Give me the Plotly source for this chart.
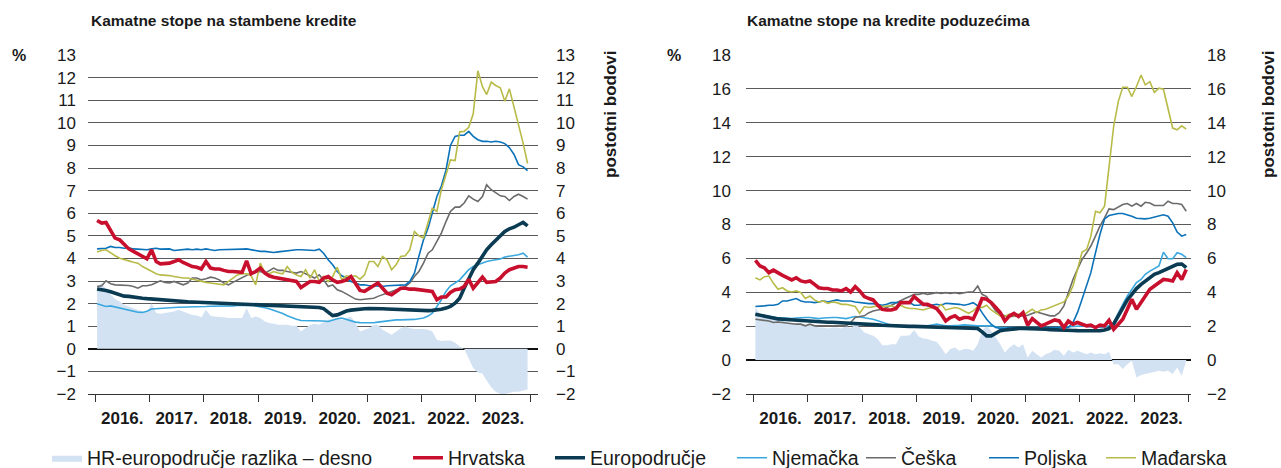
import pandas as pd
import plotly.graph_objects as go

# ---------------- data (monthly, Jan 2016 - Dec 2023) ----------------
months = pd.date_range("2016-01-01", "2023-12-01", freq="MS") + pd.Timedelta(days=14)

series_names = ["HR-europodručje razlika – desno", "Hrvatska", "Europodručje",
                "Njemačka", "Češka", "Poljska", "Mađarska"]
year_labels_fmt = "%Y."

# --- housing loans (stambeni krediti) ---
hr_h = [5.68,5.56,5.59,5.27,4.90,4.82,4.60,4.42,4.31,4.19,4.09,3.98,
        4.38,3.86,3.76,3.76,3.79,3.86,3.94,3.82,3.72,3.64,3.61,3.53,
        3.86,3.57,3.53,3.53,3.47,3.42,3.42,3.39,3.38,3.89,3.32,3.42,
        3.57,3.35,3.23,3.17,3.13,3.10,3.08,3.02,2.98,2.71,2.83,2.98,
        2.98,2.94,3.13,3.20,3.05,2.94,2.98,3.05,3.20,2.91,2.58,2.54,
        2.68,2.83,2.91,2.68,2.46,2.39,2.54,2.68,2.68,2.64,2.64,2.61,
        2.61,2.58,2.54,2.17,2.29,2.29,2.49,2.61,2.64,2.76,3.08,2.68,
        2.91,3.17,2.94,2.95,2.98,3.13,3.35,3.50,3.57,3.64,3.64,3.61]
ea_h = [2.65,2.62,2.58,2.52,2.45,2.38,2.33,2.32,2.28,2.25,2.24,2.22,
        2.20,2.18,2.17,2.15,2.14,2.12,2.10,2.09,2.08,2.07,2.06,2.05,
        2.04,2.03,2.02,2.01,2.00,1.99,1.99,1.98,1.97,1.96,1.95,1.95,
        1.94,1.93,1.92,1.91,1.90,1.89,1.88,1.87,1.86,1.85,1.85,1.84,
        1.84,1.83,1.78,1.62,1.47,1.50,1.60,1.67,1.71,1.74,1.76,1.77,
        1.78,1.79,1.78,1.77,1.76,1.75,1.74,1.73,1.72,1.71,1.70,1.70,
        1.69,1.69,1.70,1.72,1.75,1.80,1.88,2.02,2.24,2.68,3.13,3.50,
        3.79,4.12,4.38,4.60,4.79,5.00,5.19,5.31,5.38,5.49,5.59,5.44]
de_h = [1.99,1.93,1.87,1.90,1.85,1.80,1.76,1.72,1.67,1.62,1.61,1.66,
        1.76,1.78,1.79,1.80,1.81,1.83,1.84,1.84,1.85,1.86,1.86,1.87,
        1.87,1.88,1.88,1.89,1.89,1.90,1.90,1.92,1.93,1.95,1.93,1.90,
        1.87,1.82,1.77,1.71,1.65,1.56,1.46,1.37,1.31,1.25,1.25,1.25,
        1.25,1.24,1.23,1.21,1.28,1.33,1.36,1.30,1.24,1.18,1.16,1.15,
        1.14,1.15,1.18,1.21,1.24,1.26,1.28,1.28,1.28,1.28,1.30,1.33,
        1.36,1.45,1.58,1.87,2.17,2.54,2.79,2.91,3.05,3.27,3.50,3.64,
        3.72,3.79,3.86,3.91,3.94,3.97,4.06,4.09,4.12,4.16,4.23,4.06]
cz_h = [2.76,2.79,3.01,2.88,2.83,2.83,2.83,2.80,2.76,2.68,2.79,2.79,
        2.83,2.91,3.01,2.94,2.91,2.98,2.91,2.83,2.91,3.13,3.13,3.05,
        3.10,3.17,3.13,3.05,2.91,2.83,2.94,3.05,3.13,3.27,3.35,3.38,
        3.42,3.35,3.47,3.57,3.47,3.47,3.42,3.38,3.35,3.42,3.32,3.20,
        3.13,3.27,3.05,2.76,2.83,2.61,2.54,2.43,2.32,2.20,2.17,2.20,
        2.20,2.24,2.32,2.39,2.46,2.54,2.61,2.68,2.76,2.91,3.20,3.42,
        3.79,4.23,4.38,4.75,5.12,5.63,6.08,6.27,6.27,6.45,6.77,6.62,
        6.52,6.74,7.26,7.04,6.89,6.77,6.74,6.56,6.74,6.84,6.74,6.62]
pl_h = [4.42,4.42,4.45,4.53,4.48,4.48,4.45,4.47,4.42,4.41,4.41,4.38,
        4.42,4.45,4.41,4.41,4.42,4.35,4.38,4.41,4.41,4.38,4.41,4.38,
        4.42,4.38,4.35,4.38,4.38,4.38,4.38,4.38,4.41,4.42,4.38,4.35,
        4.31,4.31,4.28,4.26,4.29,4.31,4.35,4.38,4.38,4.38,4.38,4.38,
        4.35,4.41,4.23,3.94,3.72,3.42,3.23,3.13,2.98,2.91,2.83,2.83,
        2.79,2.79,2.76,2.76,2.79,2.80,2.83,2.83,2.83,2.98,3.35,4.09,
        4.82,5.34,6.00,6.74,7.20,7.90,9.00,9.40,9.45,9.45,9.62,9.40,
        9.25,9.18,9.18,9.15,9.18,9.15,9.08,8.90,8.60,8.15,8.05,7.88]
hu_h = [4.28,4.35,4.38,4.23,4.12,4.01,3.94,3.89,3.83,3.79,3.64,3.53,
        3.42,3.32,3.27,3.27,3.24,3.20,3.16,3.13,3.13,3.08,3.02,2.98,
        2.94,2.91,2.88,2.83,2.83,2.98,3.13,3.27,3.32,3.32,3.23,2.83,
        3.79,3.35,3.32,3.42,3.35,3.32,3.64,3.38,3.27,3.20,3.50,3.13,
        3.50,2.98,3.20,2.98,3.20,3.61,3.05,3.23,3.20,3.23,3.08,3.27,
        3.86,3.86,3.64,4.09,3.94,3.50,3.72,4.09,4.12,4.38,5.19,5.00,
        4.90,5.56,6.22,6.08,7.04,7.70,8.36,8.33,9.60,9.62,9.80,10.40,
        12.30,11.60,11.25,11.80,11.65,11.55,10.95,11.50,10.70,10.00,9.10,8.20]
dd_h = [2.76,2.91,2.61,2.39,2.20,2.09,1.95,1.87,1.80,1.73,1.65,1.62,
        2.02,1.58,1.55,1.58,1.61,1.65,1.73,1.65,1.55,1.50,1.47,1.40,
        1.73,1.46,1.43,1.43,1.40,1.36,1.36,1.33,1.36,1.80,1.36,1.43,
        1.36,1.21,1.14,1.11,1.06,1.06,1.06,1.02,1.02,0.77,0.91,1.06,
        1.11,1.06,1.17,1.28,1.31,1.36,1.28,1.36,1.43,1.14,0.77,0.84,
        0.91,1.06,1.06,0.84,0.72,0.62,0.77,0.91,0.99,0.91,0.88,0.88,
        0.88,0.84,0.77,0.40,0.35,0.37,0.37,0.28,0.10,0.00,-0.40,-0.85,
        -1.05,-1.10,-1.40,-1.70,-1.90,-2.00,-2.00,-1.95,-1.90,-1.90,-1.85,-1.80]

# --- corporate loans (krediti poduzećima) ---
hr_c = [5.88,5.55,5.45,5.16,5.31,5.12,5.00,4.86,4.73,4.86,4.67,4.61,
        4.67,4.47,4.27,4.22,4.22,4.14,4.14,4.08,4.22,4.02,4.33,4.08,
        3.75,3.63,3.55,3.24,3.00,2.96,2.96,3.04,3.39,3.39,3.39,3.75,
        3.49,3.29,3.29,3.16,3.04,2.71,2.31,2.51,2.61,2.41,2.51,2.51,
        2.41,3.00,3.63,3.59,3.39,3.10,2.80,2.31,2.61,2.76,2.57,2.80,
        2.06,2.45,2.22,2.02,2.12,2.22,2.37,2.31,1.92,2.31,2.12,2.22,
        2.12,2.02,2.06,1.92,2.06,2.02,2.35,1.82,2.12,2.41,3.00,3.59,
        3.00,3.39,3.78,4.18,4.37,4.57,4.76,4.73,4.67,5.16,4.76,5.35]
ea_c = [2.71,2.65,2.57,2.51,2.47,2.43,2.41,2.39,2.37,2.34,2.31,2.29,
        2.27,2.26,2.25,2.24,2.23,2.23,2.22,2.21,2.20,2.18,2.16,2.14,
        2.12,2.11,2.09,2.08,2.06,2.04,2.02,2.01,2.01,2.00,1.99,1.99,
        1.98,1.97,1.97,1.96,1.95,1.95,1.94,1.93,1.92,1.90,1.90,1.90,
        1.90,1.86,1.67,1.43,1.43,1.59,1.73,1.78,1.82,1.82,1.86,1.86,
        1.86,1.84,1.82,1.82,1.82,1.80,1.78,1.77,1.75,1.75,1.75,1.74,
        1.73,1.72,1.71,1.72,1.73,1.78,1.86,2.12,2.61,3.10,3.55,3.88,
        4.22,4.47,4.67,4.86,5.06,5.16,5.29,5.39,5.55,5.65,5.67,5.45]
de_c = [2.71,2.66,2.61,2.56,2.51,2.50,2.49,2.47,2.45,2.48,2.51,2.51,
        2.51,2.48,2.45,2.48,2.51,2.51,2.51,2.48,2.45,2.51,2.57,2.54,
        2.51,2.46,2.41,2.32,2.22,2.14,2.06,2.04,2.02,2.02,2.02,2.02,
        2.02,2.02,2.02,2.07,2.12,2.07,2.02,2.02,2.02,2.05,2.08,2.05,
        2.02,2.02,2.02,2.02,2.02,1.97,1.92,1.92,1.92,1.92,1.92,1.92,
        1.92,1.90,1.88,1.87,1.86,1.88,1.90,1.91,1.92,1.95,1.98,2.00,
        2.02,1.98,1.95,1.93,1.92,1.95,2.02,2.22,2.80,3.29,3.78,4.18,
        4.57,4.76,5.06,5.25,5.39,5.55,6.37,5.98,5.98,6.33,6.24,6.04]
cz_c = [2.41,2.37,2.31,2.31,2.22,2.25,2.22,2.18,2.16,2.12,2.12,2.02,
        2.12,2.02,2.02,2.02,2.02,2.02,2.02,2.02,2.02,2.22,2.51,2.57,
        2.61,2.80,2.90,2.96,3.00,3.10,3.24,3.35,3.49,3.63,3.75,3.88,
        3.88,3.94,3.88,3.94,3.98,3.94,3.98,3.94,3.98,3.92,3.98,4.02,
        4.02,4.37,3.88,3.75,3.29,2.90,2.71,2.61,2.57,2.57,2.61,2.61,
        2.65,2.76,2.84,2.76,2.69,2.61,2.61,2.80,3.20,3.98,4.76,5.35,
        5.94,6.33,6.73,7.31,7.90,8.39,8.92,8.88,9.04,9.18,9.24,9.08,
        9.24,9.08,9.31,9.27,9.12,9.12,9.12,9.37,9.24,9.24,9.18,8.78]
pl_c = [3.16,3.16,3.20,3.24,3.24,3.29,3.49,3.49,3.55,3.63,3.49,3.43,
        3.43,3.39,3.43,3.49,3.43,3.49,3.55,3.49,3.49,3.49,3.43,3.39,
        3.35,3.33,3.33,3.29,3.24,3.29,3.39,3.39,3.43,3.43,3.39,3.24,
        3.24,3.29,3.20,3.24,3.29,3.24,3.35,3.33,3.33,3.29,3.24,3.29,
        3.39,3.20,2.80,2.41,2.12,1.92,1.86,1.86,1.92,1.92,1.96,1.94,
        1.92,1.92,1.92,1.94,1.96,1.96,1.96,1.94,1.92,1.92,2.22,2.80,
        3.59,4.37,5.16,6.33,7.41,8.33,8.53,8.59,8.65,8.65,8.59,8.49,
        8.37,8.33,8.33,8.37,8.45,8.53,8.57,8.49,8.10,7.55,7.31,7.41]
hu_c = [4.86,4.73,4.92,4.96,4.53,4.18,4.27,4.08,4.02,4.08,3.98,3.63,
        3.78,3.55,3.43,3.49,3.35,3.43,3.39,3.29,3.29,3.24,3.16,2.76,
        3.16,3.10,3.16,3.20,3.16,3.20,3.20,3.10,3.24,3.10,3.04,3.04,
        3.00,2.96,3.04,3.10,3.04,3.29,2.96,3.04,3.10,3.04,2.90,2.76,
        2.90,3.16,3.10,3.24,2.96,2.76,2.61,2.57,2.71,2.61,2.71,2.65,
        2.80,3.00,2.80,2.96,3.00,3.10,3.20,3.29,3.43,3.78,4.37,5.35,
        6.37,6.53,7.31,8.78,8.69,9.08,11.24,13.78,15.25,16.10,16.10,15.55,
        16.14,16.82,16.24,16.43,15.80,16.04,15.98,14.76,13.69,13.59,13.82,13.63]
dd_c = [3.10,2.71,2.61,2.45,2.51,2.41,2.31,2.22,2.12,2.22,2.12,2.02,
        2.06,2.02,1.92,1.92,1.86,1.92,1.92,1.86,2.02,1.86,2.12,1.92,
        1.63,1.53,1.43,1.24,0.88,0.88,0.94,0.94,1.43,1.43,1.47,1.78,
        1.39,1.27,1.24,1.14,1.08,0.75,0.35,0.65,0.75,0.55,0.65,0.65,
        0.55,0.94,1.73,2.02,1.73,1.33,0.94,0.45,0.75,0.94,0.75,0.94,
        0.16,0.55,0.35,0.16,0.35,0.45,0.61,0.55,0.25,0.61,0.45,0.55,
        0.45,0.35,0.45,0.35,0.41,0.35,0.49,-0.24,-0.24,-0.53,-0.24,-0.04,
        -1.02,-0.88,-0.82,-0.76,-0.73,-0.63,-0.69,-0.63,-0.82,-0.43,-0.92,-0.04]

# ---------------- styling ----------------
W, H = 1281, 468
FONT = "Liberation Sans, Arial, sans-serif"
TXT = "#1a1a1a"
AREA = "#d3e2f3"
COLORS = {"Hrvatska": "#c8102e", "Europodručje": "#0b3b52", "Njemačka": "#3aa8de",
          "Češka": "#6b6b6b", "Poljska": "#0b72b9", "Mađarska": "#b8bb48"}
WIDTHS = {"Hrvatska": 3.6, "Europodručje": 3.6, "Njemačka": 1.6,
          "Češka": 1.6, "Poljska": 1.6, "Mađarska": 1.6}
GRID = "#5a5a5a"


def fx(p):
    return p / W


def fy(p):
    return 1 - p / H


fig = go.Figure()

charts = [
    dict(x="x", xo="x3", yb="y", yo="y2", show=True,
         data={"Hrvatska": hr_h, "Europodručje": ea_h, "Njemačka": de_h,
               "Češka": cz_h, "Poljska": pl_h, "Mađarska": hu_h}, diff=dd_h),
    dict(x="x2", xo="x4", yb="y3", yo="y4", show=False,
         data={"Hrvatska": hr_c, "Europodručje": ea_c, "Njemačka": de_c,
               "Češka": cz_c, "Poljska": pl_c, "Mađarska": hu_c}, diff=dd_c),
]

legend_ids = ["legend", "legend2", "legend3", "legend4", "legend5", "legend6", "legend7"]
draw_order = ["Njemačka", "Češka", "Poljska", "Mađarska", "Europodručje", "Hrvatska"]

for ch in charts:
    fig.add_trace(go.Scatter(
        x=months, y=ch["diff"], mode="lines", fill="tozeroy", fillcolor=AREA,
        line=dict(width=0, color=AREA), name=series_names[0],
        xaxis=ch["x"], yaxis=ch["yb"], showlegend=ch["show"], legend=legend_ids[0],
        hoverinfo="skip"))
    for nm in draw_order:
        fig.add_trace(go.Scatter(
            x=months, y=ch["data"][nm], mode="lines", name=nm,
            line=dict(color=COLORS[nm], width=WIDTHS[nm]),
            xaxis=ch["x"], yaxis=ch["yo"], showlegend=ch["show"],
            legend=legend_ids[series_names.index(nm)]))

ydom = [fy(394), fy(55)]
tickfont = dict(family=FONT, size=17, color=TXT)

def xaxis_cfg(dom, rng, anchor):
    return dict(domain=dom, range=rng, type="date", anchor=anchor,
                tick0="2016-01-01", dtick="M12", ticklabelmode="period",
                tickformat=year_labels_fmt, ticks="outside", ticklen=7,
                tickwidth=1.3, tickcolor="#333", showline=True, linecolor="#333",
                linewidth=1.4, showgrid=False, zeroline=False, tickangle=0,
                tickfont=dict(family=FONT, size=17, color=TXT, weight="bold"),
                ticklabelstandoff=1, automargin=False, fixedrange=True)

def xover_cfg(rng, over, anchor):
    return dict(range=rng, type="date", overlaying=over, anchor=anchor,
                tick0="2016-01-01", dtick="M12", ticks="inside", ticklen=6,
                tickwidth=1.3, tickcolor="#333", showticklabels=False,
                showline=False, showgrid=False, zeroline=False, automargin=False)

def ybase_cfg(rng, dtick, anchor, standoff):
    return dict(domain=ydom, range=rng, dtick=dtick, anchor=anchor, side="right",
                showgrid=True, gridcolor=GRID, gridwidth=1.4,
                zeroline=True, zerolinecolor="#111", zerolinewidth=1.7,
                ticks="", tickfont=tickfont, ticklabelstandoff=standoff,
                showline=False, automargin=False, fixedrange=True)

def yover_cfg(rng, dtick, over, anchor, standoff):
    return dict(range=rng, dtick=dtick, overlaying=over, anchor=anchor, side="left",
                showgrid=False, zeroline=False, ticks="", tickfont=tickfont,
                ticklabelstandoff=standoff, showline=False, automargin=False,
                fixedrange=True)

rng_l = ["2015-11-15", "2024-02-23"]
rng_r = ["2015-11-13", "2024-01-16"]

fig.update_layout(
    width=W, height=H, margin=dict(l=0, r=0, t=0, b=0, autoexpand=False),
    paper_bgcolor="white", plot_bgcolor="white",
    font=dict(family=FONT, color=TXT),
    xaxis=xaxis_cfg([fx(88), fx(538)], rng_l, "y"),
    xaxis3=xover_cfg(rng_l, "x", "y"),
    xaxis2=xaxis_cfg([fx(746), fx(1191)], rng_r, "y3"),
    xaxis4=xover_cfg(rng_r, "x2", "y3"),
    yaxis=ybase_cfg([-2, 13], 1, "x", 17),
    yaxis2=yover_cfg([-2, 13], 1, "y", "x", 11),
    yaxis3=ybase_cfg([-2, 18], 2, "x2", 15),
    yaxis4=yover_cfg([-2, 18], 2, "y3", "x2", 14),
    showlegend=True,
)

# legends: one per series, placed along the bottom row
legend_text_x = [89, 450, 592, 774, 903, 1026, 1143]
leg_font = dict(family=FONT, size=19.5, color=TXT)
for lid, tx in zip(legend_ids, legend_text_x):
    fig.update_layout({lid: dict(x=fx(tx - 42), y=fy(458), xanchor="left", yanchor="middle",
                                 orientation="h", font=leg_font, bgcolor="rgba(0,0,0,0)",
                                 borderwidth=0, itemclick=False, itemdoubleclick=False)})

# titles and axis labels
anns = [
    dict(text="<b>Kamatne stope na stambene kredite</b>", x=fx(89), y=fy(21), xanchor="left", size=15.5),
    dict(text="<b>Kamatne stope na kredite poduzećima</b>", x=fx(745), y=fy(21), xanchor="left", size=15.5),
    dict(text="<b>%</b>", x=fx(19), y=fy(55), xanchor="center", size=16),
    dict(text="<b>%</b>", x=fx(674), y=fy(55), xanchor="center", size=16),
    dict(text="<b>postotni bodovi</b>", x=fx(610), y=fy(115), xanchor="center", textangle=-90, size=17),
    dict(text="<b>postotni bodovi</b>", x=fx(1268), y=fy(115), xanchor="center", textangle=-90, size=17),
]
for a in anns:
    sz = a.pop("size")
    a.update(xref="paper", yref="paper", yanchor="middle", showarrow=False,
             font=dict(family=FONT, size=sz, color=TXT))
    fig.add_annotation(**a)

# remove the default page margin so the 1281x468 figure fills the window exactly
fig.write_html("out.html", config={"displayModeBar": False},
               post_script="document.body.style.margin='0';document.body.style.overflow='hidden';")
